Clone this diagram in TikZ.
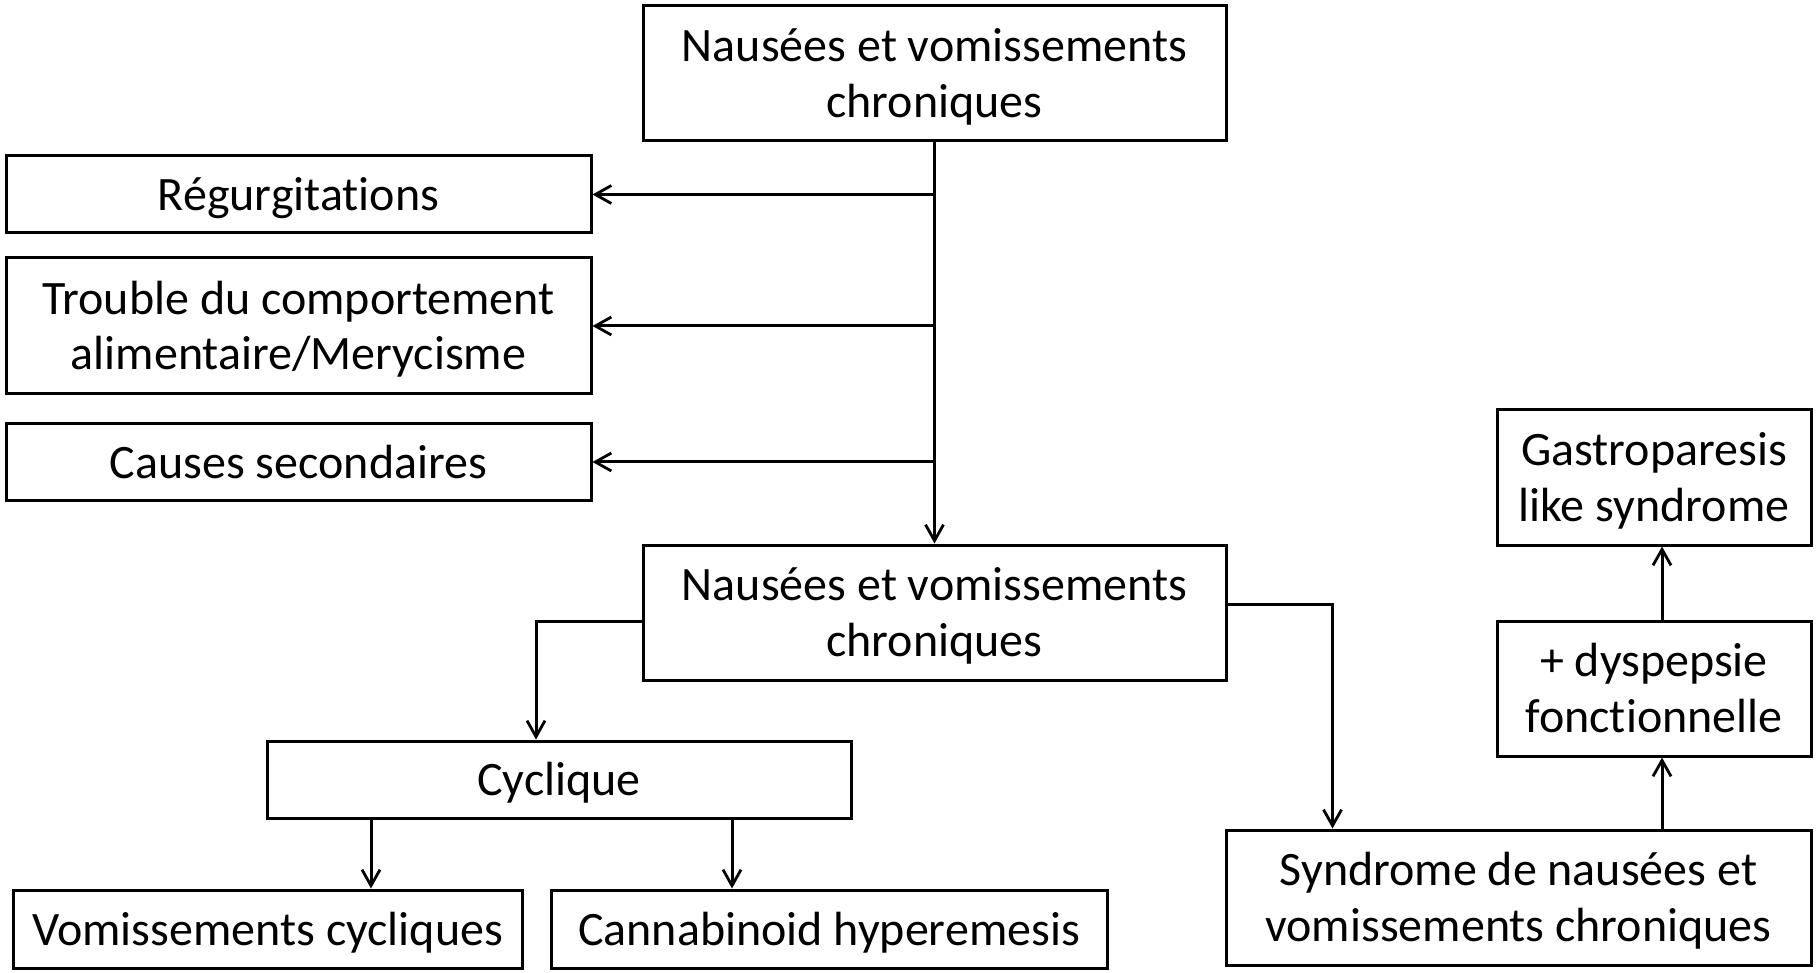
\documentclass[tikz,border=0pt]{standalone}
\usepackage{fontspec}
\setmainfont[Ligatures={NoCommon}]{Carlito}
\usetikzlibrary{arrows.meta}
\newcommand{\boxtext}[1]{\raisebox{-5pt}[\height][\depth]{\begin{tabular}{@{}c@{}}#1\end{tabular}}}

\begin{document}
\begin{tikzpicture}[x=1pt,y=-1pt]
        \tikzstyle{every node} = [draw, line width=3pt, inner sep=0pt,
            font=\fontsize{48}{55.6}\selectfont]
        \tikzstyle{link} = [line width=3pt, -{Straight Barb[length=16pt,width=18pt,line width=2.8pt]}]
        \useasboundingbox (0,0) rectangle (1816,973);
        \node[minimum width=583pt, minimum height=135pt] (top) at (934.5,73.5) {\boxtext{Nausées et vomissements\\chroniques}};
        \node[minimum width=585pt, minimum height=77pt] (reg) at (298.5,194.5) {\boxtext{Régurgitations}};
        \node[minimum width=585pt, minimum height=136pt] (tca) at (298.5,326) {\boxtext{Trouble du comportement\\alimentaire/Merycisme}};
        \node[minimum width=585pt, minimum height=76pt] (cs) at (298.5,462) {\boxtext{Causes secondaires}};
        \node[minimum width=583pt, minimum height=135pt] (mid) at (934.5,612.5) {\boxtext{Nausées et vomissements\\chroniques}};
        \node[minimum width=584pt, minimum height=77pt] (cyc) at (559,779.5) {\boxtext{Cyclique}};
        \node[minimum width=509pt, minimum height=78pt] (vc) at (267.5,929) {\boxtext{Vomissements cycliques}};
        \node[minimum width=556pt, minimum height=78pt] (ch) at (829,929) {\boxtext{Cannabinoid hyperemesis}};
        \node[minimum width=585pt, minimum height=135pt] (snvc) at (1518.5,897.5) {\boxtext{Syndrome de nausées et\\vomissements chroniques}};
        \node[minimum width=314pt, minimum height=135pt] (dys) at (1654,688.5) {\boxtext{+ dyspepsie\\fonctionnelle}};
        \node[minimum width=314pt, minimum height=135pt] (gas) at (1654,477.5) {\boxtext{Gastroparesis\\like syndrome}};
        % branch points
        \coordinate (ml) at ([yshift=-9pt]mid.west);
        \coordinate (mr) at ([yshift=8pt]mid.east);
        \coordinate (cycin) at ([xshift=-23pt]cyc.north);
        \coordinate (snvcin) at ([xshift=-186pt]snvc.north);
        \coordinate (vcin) at ([xshift=103.5pt]vc.north);
        \coordinate (chin) at ([xshift=-97pt]ch.north);
        \coordinate (up) at ([xshift=143.5pt]snvc.north);
        \draw[link] (top.south) -- (mid.north);
        \foreach \to in {reg, tca, cs}
            \draw[link] (top.south |- \to.east) -- (\to.east);
        \draw[link] (ml) -| (cycin);
        \draw[link] (mr) -| (snvcin);
        \foreach \to in {vcin, chin}
            \draw[link] (cyc.south -| \to) -- (\to);
        \draw[link] (up) -- (dys.south -| up);
        \draw[link] (dys.north -| up) -- (gas.south -| up);
    \end{tikzpicture}
\end{document}
